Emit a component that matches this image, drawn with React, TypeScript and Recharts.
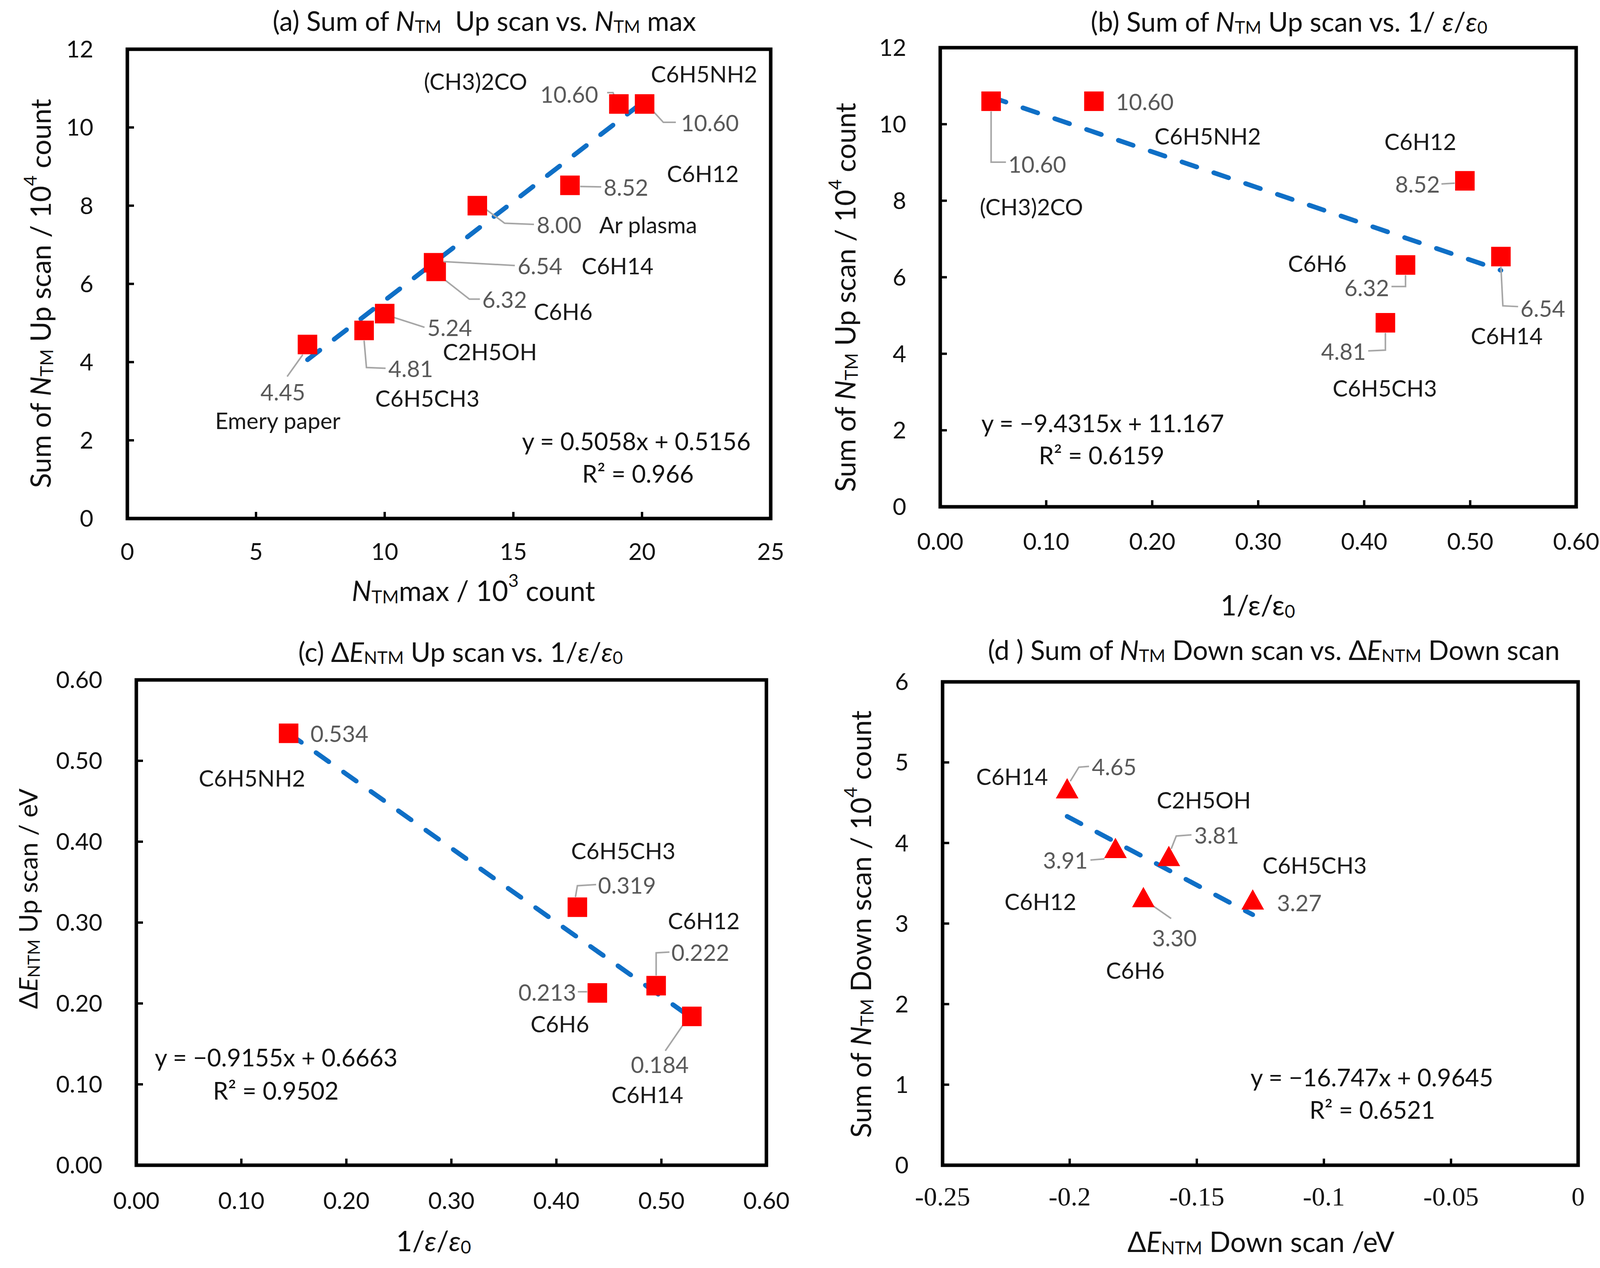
import React from "react";
import {
  ReferenceArea,
  ReferenceLine,
  Scatter,
  ScatterChart,
  XAxis,
  YAxis,
} from "recharts";

// ---- data ----

// (a) sum of N_TM up scan vs N_TM max
const aNames = ["Emery paper", "C6H5CH3", "C2H5OH", "C6H6", "C6H14", "Ar plasma", "C6H12", "(CH3)2CO", "C6H5NH2"];
const aX = [7.0, 9.2, 10.0, 12.0, 11.9, 13.6, 17.2, 19.1, 20.1];
const aY = [4.45, 4.81, 5.24, 6.32, 6.54, 8.0, 8.52, 10.6, 10.6];
const aTrend = [[7.0, 4.06], [20.1, 10.68]];
const aXTicks = [0, 5, 10, 15, 20, 25];
const aYTicks = [0, 2, 4, 6, 8, 10, 12];

// (b) sum of N_TM up scan vs 1/eps
const bNames = ["(CH3)2CO", "C6H5NH2", "C6H12", "C6H6", "C6H14", "C6H5CH3"];
const bX = [0.048, 0.145, 0.495, 0.439, 0.529, 0.42];
const bY = [10.6, 10.6, 8.52, 6.32, 6.54, 4.81];
const bTrend = [[0.048, 10.71], [0.529, 6.18]];
const bXTicks = [0, 0.1, 0.2, 0.3, 0.4, 0.5, 0.6];
const bYTicks = [0, 2, 4, 6, 8, 10, 12];

// (c) dE_NTM up scan vs 1/eps
const cNames = ["C6H5NH2", "C6H5CH3", "C6H6", "C6H12", "C6H14"];
const cX = [0.145, 0.42, 0.439, 0.495, 0.529];
const cY = [0.534, 0.319, 0.213, 0.222, 0.184];
const cTrend = [[0.145, 0.534], [0.529, 0.182]];
const cXTicks = [0, 0.1, 0.2, 0.3, 0.4, 0.5, 0.6];
const cYTicks = [0, 0.1, 0.2, 0.3, 0.4, 0.5, 0.6];

// (d) sum of N_TM down scan vs dE_NTM down scan
const dNames = ["C6H14", "C6H12", "C2H5OH", "C6H6", "C6H5CH3"];
const dX = [-0.201, -0.182, -0.161, -0.171, -0.128];
const dY = [4.65, 3.91, 3.81, 3.3, 3.27];
const dTrend = [[-0.201, 4.33], [-0.128, 3.11]];
const dXTicks = [-0.25, -0.2, -0.15, -0.1, -0.05, 0];
const dYTicks = [0, 1, 2, 3, 4, 5, 6];

// ---- label placement (px offsets from the marker centre) ----
type Anchor = "start" | "middle" | "end";
type Place = { v: [number, number, Anchor]; n: [number, number, Anchor]; lead?: number[][] };

const A_LAYOUT: Place[] = [
  { v: [-63, 121, "middle"], lead: [[-12, 26], [-52, 82]], n: [-76, 194, "middle"] },
  { v: [62, 97, "start"], lead: [[0, 26], [6, 95], [55, 97]], n: [162, 173, "middle"] },
  { v: [109, 35, "start"], lead: [[24, 10], [102, 35]], n: [149, 97, "start"] },
  { v: [118, 71, "start"], lead: [[20, 20], [85, 71], [112, 71]], n: [250, 102, "start"] },
  { v: [215, 7, "start"], lead: [[26, -3], [208, 7]], n: [379, 7, "start"] },
  { v: [152, 48, "start"], lead: [[20, 8], [70, 45], [145, 48]], n: [312, 48, "start"] },
  { v: [86, 4, "start"], lead: [[26, 3], [80, 4]], n: [248, -31, "start"] },
  { v: [-53, -26, "end"], lead: [[-30, -29], [-15, -29], [-2, 1]], n: [-499, -59, "start"] },
  { v: [93, 47, "start"], lead: [[2, -3], [48, 47], [80, 47]], n: [16, -78, "start"] },
];
const B_LAYOUT: Place[] = [
  { v: [44, 160, "start"], lead: [[0, 26], [0, 156], [38, 156]], n: [-29, 269, "start"] },
  { v: [56, 0, "start"], n: [155, 88, "start"] },
  { v: [-64, 8, "end"], lead: [[-60, 8], [-26, 6]], n: [-206, -101, "start"] },
  { v: [-42, 57, "end"], lead: [[0, 26], [0, 55], [-36, 55]], n: [-301, -5, "start"] },
  { v: [50, 132, "start"], lead: [[0, 26], [5, 126], [44, 128]], n: [-77, 202, "start"] },
  { v: [-50, 72, "end"], lead: [[0, 26], [0, 70], [-44, 72]], n: [-135, 166, "start"] },
];
const C_LAYOUT: Place[] = [
  { v: [56, 0, "start"], n: [-230, 114, "start"] },
  { v: [53, -57, "start"], lead: [[-5, -26], [0, -55], [48, -58]], n: [-16, -145, "start"] },
  { v: [-54, -3, "end"], lead: [[-50, -3], [-26, -3]], n: [-171, 78, "start"] },
  { v: [39, -86, "start"], lead: [[0, -26], [0, -84], [34, -86]], n: [30, -167, "start"] },
  { v: [-82, 122, "middle"], lead: [[-20, 18], [-68, 88]], n: [-206, 199, "start"] },
];
const D_LAYOUT: Place[] = [
  { v: [63, -62, "start"], lead: [[8, -24], [30, -60], [56, -62]], n: [-233, -37, "start"] },
  { v: [-71, 25, "end"], lead: [[-64, 25], [-28, 22]], n: [-284, 131, "start"] },
  { v: [65, -60, "start"], lead: [[6, -24], [19, -57], [58, -60]], n: [-31, -150, "start"] },
  { v: [22, 98, "start"], lead: [[12, 8], [71, 49]], n: [-96, 181, "start"] },
  { v: [62, 2, "start"], n: [25, -94, "start"] },
];

const FONT = "Lato, 'Open Sans', sans-serif";
const RED = "#ff0000";
const BLUE = "#0f6fc6";
const LABEL_SIZE = 58;
const EQ_SIZE = 62;
const TICK_SIZE = 60;
const TITLE_SIZE = 69;
const AXIS_TITLE_SIZE = 71;

type Part = [string, string?];

function Rich({ x, y, parts, size, rotate = 0, anchor = "middle" }: {
  x: number; y: number; parts: Part[]; size: number; rotate?: number; anchor?: Anchor;
}) {
  let shift = 0;
  const spans = parts.map(([t, k], i) => {
    const target = k === "sub" ? size * 0.22 : k === "sup" ? -size * 0.36 : 0;
    const dy = target - shift;
    shift = target;
    return (
      <tspan
        key={i}
        dy={dy || undefined}
        fontStyle={k === "i" ? "italic" : undefined}
        fontSize={k === "sub" || k === "sup" ? size * 0.65 : undefined}
      >
        {t}
      </tspan>
    );
  });
  return (
    <text
      x={x}
      y={y}
      fontSize={size}
      fontFamily={FONT}
      fill="#111"
      textAnchor={anchor}
      dominantBaseline="central"
      transform={rotate ? `rotate(${rotate} ${x} ${y})` : undefined}
      style={{ whiteSpace: "pre" }}
    >
      {spans}
    </text>
  );
}

function makeShape(layout: Place[], digits: number, kind: "square" | "triangle") {
  return (props: any) => {
    const { cx, cy, payload } = props;
    const L = layout[payload.i];
    const marker =
      kind === "square" ? (
        <rect x={cx - 25} y={cy - 25} width={50} height={50} fill={RED} />
      ) : (
        <polygon points={`${cx},${cy - 32} ${cx + 29},${cy + 20} ${cx - 29},${cy + 20}`} fill={RED} />
      );
    return (
      <g>
        {L.lead && (
          <polyline
            points={L.lead.map(([px, py]) => `${cx + px},${cy + py}`).join(" ")}
            fill="none"
            stroke="#a6a6a6"
            strokeWidth={4}
          />
        )}
        {marker}
        <text
          x={cx + L.v[0]}
          y={cy + L.v[1]}
          textAnchor={L.v[2]}
          dominantBaseline="central"
          fontSize={LABEL_SIZE}
          fontFamily={FONT}
          fill="#595959"
        >
          {payload.y.toFixed(digits)}
        </text>
        <text
          x={cx + L.n[0]}
          y={cy + L.n[1]}
          textAnchor={L.n[2]}
          dominantBaseline="central"
          fontSize={LABEL_SIZE}
          fontFamily={FONT}
          fill="#1a1a1a"
        >
          {payload.name}
        </text>
      </g>
    );
  };
}

function build(names: string[], xs: number[], ys: number[]) {
  return names.map((name, i) => ({ name, x: xs[i], y: ys[i], i }));
}

function Panel(props: {
  left: number; top: number; width: number; height: number;
  margin: { top: number; right: number; bottom: number; left: number };
  data: any[]; trend: number[][]; xTicks: number[]; yTicks: number[];
  xFmt: (v: number) => string; yFmt: (v: number) => string;
  shape: any; xTickFont?: string; xTickMargin: number;
}) {
  const { xTicks, yTicks, margin } = props;
  const x0 = xTicks[0], x1 = xTicks[xTicks.length - 1];
  const y0 = yTicks[0], y1 = yTicks[yTicks.length - 1];
  const tickText = { fill: "#111", fontSize: TICK_SIZE, fontFamily: FONT };
  // axes get 1px of room, so take it back from the margins
  const m = { ...margin, left: margin.left - 1, bottom: margin.bottom - 1 };
  return (
    <div style={{ position: "absolute", left: props.left, top: props.top }}>
      <ScatterChart width={props.width} height={props.height} margin={m}>
        <XAxis
          type="number"
          dataKey="x"
          domain={[x0, x1]}
          ticks={xTicks}
          interval={0}
          height={1}
          axisLine={false}
          tickSize={-17}
          tickMargin={props.xTickMargin}
          tickLine={{ stroke: "#000", strokeWidth: 6 }}
          tick={{ ...tickText, fontFamily: props.xTickFont ?? FONT, fontSize: props.xTickFont ? 68 : TICK_SIZE }}
          tickFormatter={props.xFmt}
          allowDataOverflow
        />
        <YAxis
          type="number"
          dataKey="y"
          domain={[y0, y1]}
          ticks={yTicks}
          interval={0}
          width={1}
          axisLine={false}
          tickSize={-17}
          tickMargin={104}
          tickLine={{ stroke: "#000", strokeWidth: 6 }}
          tick={tickText}
          tickFormatter={props.yFmt}
          allowDataOverflow
        />
        <ReferenceArea x1={x0} x2={x1} y1={y0} y2={y1} fill="none" stroke="#000" strokeWidth={9} ifOverflow="visible" />
        <ReferenceLine
          segment={[
            { x: props.trend[0][0], y: props.trend[0][1] },
            { x: props.trend[1][0], y: props.trend[1][1] },
          ]}
          stroke={BLUE}
          strokeWidth={12}
          strokeDasharray="40 46"
          strokeLinecap="round"
          ifOverflow="visible"
        />
        <Scatter data={props.data} shape={props.shape} isAnimationActive={false} />
      </ScatterChart>
    </div>
  );
}

const int = (v: number) => String(v);
const f2 = (v: number) => v.toFixed(2);
const plain = (v: number) => String(v);

export default function App() {
  return (
    <div style={{ position: "absolute", left: 0, top: 0, width: 4145, height: 3245, background: "#fff" }}>
      <Panel
        left={0} top={0} width={2072} height={1620}
        margin={{ top: 126, right: 99, bottom: 293, left: 326 }}
        data={build(aNames, aX, aY)} trend={aTrend} xTicks={aXTicks} yTicks={aYTicks}
        xFmt={int} yFmt={int} shape={makeShape(A_LAYOUT, 2, "square")} xTickMargin={80}
      />
      <Panel
        left={2072} top={0} width={2073} height={1620}
        margin={{ top: 122, right: 110, bottom: 323, left: 335 }}
        data={build(bNames, bX, bY)} trend={bTrend} xTicks={bXTicks} yTicks={bYTicks}
        xFmt={f2} yFmt={int} shape={makeShape(B_LAYOUT, 2, "square")} xTickMargin={84}
      />
      <Panel
        left={0} top={1620} width={2072} height={1625}
        margin={{ top: 120, right: 110, bottom: 263, left: 349 }}
        data={build(cNames, cX, cY)} trend={cTrend} xTicks={cXTicks} yTicks={cYTicks}
        xFmt={f2} yFmt={f2} shape={makeShape(C_LAYOUT, 3, "square")} xTickMargin={86}
      />
      <Panel
        left={2072} top={1620} width={2073} height={1625}
        margin={{ top: 125, right: 105, bottom: 263, left: 341 }}
        data={build(dNames, dX, dY)} trend={dTrend} xTicks={dXTicks} yTicks={dYTicks}
        xFmt={plain} yFmt={int} shape={makeShape(D_LAYOUT, 2, "triangle")}
        xTickFont="'Liberation Serif', serif" xTickMargin={72}
      />
      <svg
        width={4145}
        height={3245}
        style={{ position: "absolute", left: 0, top: 0, pointerEvents: "none" }}
      >
        {/* titles */}
        <Rich x={1240} y={52} size={TITLE_SIZE} parts={[["(a) Sum of "], ["N", "i"], ["TM", "sub"], ["  Up scan vs. "], ["N", "i"], ["TM", "sub"], [" max"]]} />
        <Rich x={3300} y={54} size={TITLE_SIZE} parts={[["(b) Sum of "], ["N", "i"], ["TM", "sub"], [" Up scan vs. 1/ "], ["ε", "i"], ["/"], ["ε", "i"], ["0", "sub"]]} />
        <Rich x={1179} y={1667} size={TITLE_SIZE} parts={[["(c) Δ"], ["E", "i"], ["NTM", "sub"], [" Up scan vs. 1/"], ["ε", "i"], ["/"], ["ε", "i"], ["0", "sub"]]} />
        <Rich x={3261} y={1662} size={TITLE_SIZE} parts={[["(d ) Sum of "], ["N", "i"], ["TM", "sub"], [" Down scan vs. Δ"], ["E", "i"], ["NTM", "sub"], [" Down scan"]]} />

        {/* y axis titles */}
        <Rich x={102} y={751} size={AXIS_TITLE_SIZE} rotate={-90} parts={[["Sum of "], ["N", "i"], ["TM", "sub"], [" Up scan / 10"], ["4", "sup"], [" count"]]} />
        <Rich x={2162} y={761} size={AXIS_TITLE_SIZE} rotate={-90} parts={[["Sum of "], ["N", "i"], ["TM", "sub"], [" Up scan / 10"], ["4", "sup"], [" count"]]} />
        <Rich x={70} y={2300} size={66} rotate={-90} parts={[["Δ"], ["E", "i"], ["NTM", "sub"], [" Up scan / eV"]]} />
        <Rich x={2202} y={2365} size={AXIS_TITLE_SIZE} rotate={-90} parts={[["Sum of "], ["N", "i"], ["TM", "sub"], [" Down scan / 10"], ["4", "sup"], [" count"]]} />

        {/* x axis titles */}
        <Rich x={1212} y={1510} size={AXIS_TITLE_SIZE} parts={[["N", "i"], ["TM", "sub"], ["max / 10"], ["3", "sup"], [" count"]]} />
        <Rich x={3220} y={1547} size={AXIS_TITLE_SIZE} parts={[["1/ε/ε"], ["0", "sub"]]} />
        <Rich x={1110} y={3174} size={AXIS_TITLE_SIZE} parts={[["1/"], ["ε", "i"], ["/"], ["ε", "i"], ["0", "sub"]]} />
        <Rich x={3228} y={3176} size={AXIS_TITLE_SIZE} parts={[["Δ"], ["E", "i"], ["NTM", "sub"], [" Down scan /eV"]]} />

        {/* trend equations */}
        <Rich x={1629} y={1128} size={EQ_SIZE} parts={[["y = 0.5058x + 0.5156"]]} />
        <Rich x={1633} y={1211} size={EQ_SIZE} parts={[["R² = 0.966"]]} />
        <Rich x={2823} y={1082} size={EQ_SIZE} parts={[["y = −9.4315x + 11.167"]]} />
        <Rich x={2820} y={1164} size={EQ_SIZE} parts={[["R² = 0.6159"]]} />
        <Rich x={707} y={2705} size={EQ_SIZE} parts={[["y = −0.9155x + 0.6663"]]} />
        <Rich x={706} y={2790} size={EQ_SIZE} parts={[["R² = 0.9502"]]} />
        <Rich x={3512} y={2756} size={EQ_SIZE} parts={[["y = −16.747x + 0.9645"]]} />
        <Rich x={3513} y={2839} size={EQ_SIZE} parts={[["R² = 0.6521"]]} />
      </svg>
    </div>
  );
}
